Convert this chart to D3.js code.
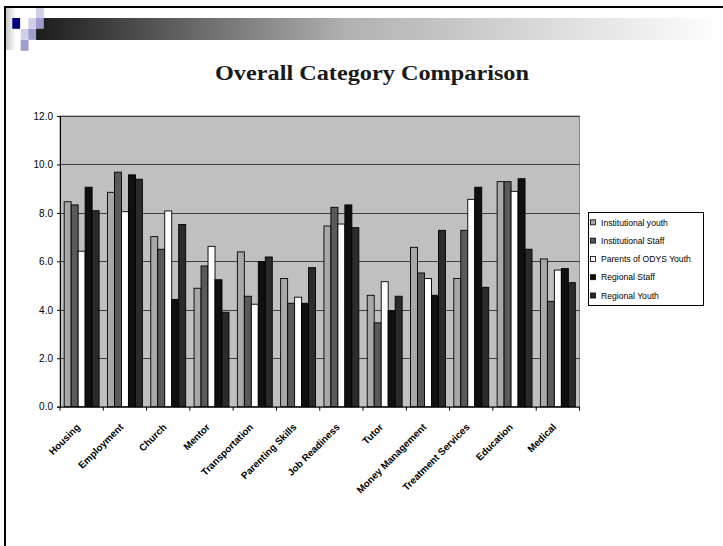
<!DOCTYPE html>
<html><head><meta charset="utf-8">
<script src="https://cdn.jsdelivr.net/npm/d3@7"></script>
<style>body{margin:0;background:#fff}svg{display:block}</style>
</head><body>
<svg id="c" width="723" height="546"></svg>
<script>
const categories = ["Housing","Employment","Church","Mentor","Transportation","Parenting Skills","Job Readiness","Tutor","Money Management","Treatment Services","Education","Medical"];
const seriesNames = ["Institutional youth","Institutional Staff","Parents of ODYS Youth","Regional Staff","Regional Youth"];
const institutionalYouth = [8.46, 8.85, 7.02, 4.89, 6.39, 5.29, 7.46, 4.60, 6.58, 5.29, 9.29, 6.10];
const institutionalStaff = [8.33, 9.68, 6.50, 5.81, 4.56, 4.27, 8.23, 3.46, 5.52, 7.28, 9.29, 4.35];
const parentsOfOdys     = [6.42, 8.05, 8.08, 6.62, 4.23, 4.52, 7.54, 5.16, 5.29, 8.56, 8.89, 5.64];
const regionalStaff     = [9.06, 9.57, 4.43, 5.24, 5.99, 4.27, 8.33, 3.96, 4.60, 9.06, 9.41, 5.70];
const regionalYouth     = [8.09, 9.39, 7.52, 3.90, 6.18, 5.74, 7.39, 4.56, 7.28, 4.93, 6.50, 5.12];
const yTicks = [0, 2, 4, 6, 8, 10, 12];
const colors = ["#a8a8a8", "#5a5a5a", "#ffffff", "#101010", "#2b2b2b"];

const seriesValues = [institutionalYouth, institutionalStaff, parentsOfOdys, regionalStaff, regionalYouth];
const svg = d3.select("#c");

// slide decoration
const defs = svg.append("defs");
const g1 = defs.append("linearGradient").attr("id","hdr").attr("x1","0").attr("x2","1");
g1.append("stop").attr("offset","0").attr("stop-color","#1c1c1c");
g1.append("stop").attr("offset","0.45").attr("stop-color","#b0b0b0");
g1.append("stop").attr("offset","1").attr("stop-color","#ffffff");
const g2 = defs.append("linearGradient").attr("id","lft").attr("x1","0").attr("x2","1");
g2.append("stop").attr("offset","0").attr("stop-color","#c8c8c8");
g2.append("stop").attr("offset","1").attr("stop-color","#ffffff");
svg.append("rect").attr("x",6).attr("y",7).attr("width",10).attr("height",43).attr("fill","url(#lft)");
svg.append("rect").attr("x",36).attr("y",18).attr("width",687).attr("height",22).attr("fill","url(#hdr)");
const sq = [[12.3,18,"#000080"],[28.3,18,"#cfd0e8"],[36,7.3,"#cfd0e8"],[36,18,"#9c9dcc"],[20.7,29,"#cfd0e8"],[28.3,29,"#9c9dcc"],[20.7,40,"#9c9dcc"]];
svg.selectAll("rect.sq").data(sq).enter().append("rect").attr("class","sq")
  .attr("x",d=>d[0]).attr("y",d=>d[1]).attr("width",7.8).attr("height",10.8).attr("fill",d=>d[2]);
svg.append("line").attr("x1",4).attr("x2",723).attr("y1",7).attr("y2",7).attr("stroke","#000").attr("stroke-width",2);
svg.append("line").attr("x1",5).attr("x2",5).attr("y1",6).attr("y2",546).attr("stroke","#000").attr("stroke-width",2);

// title
svg.append("text").attr("x",372).attr("y",80).attr("text-anchor","middle")
  .attr("font-family","Liberation Serif, serif").attr("font-weight","bold").attr("font-size",20.5)
  .attr("textLength",314).attr("lengthAdjust","spacingAndGlyphs")
  .attr("fill","#1a1a1a").text("Overall Category Comparison");

// plot
const L = 60, R = 579.5, T = 116, B = 406.7;
const x0 = d3.scaleBand().domain(categories).range([L, R]).paddingInner(0).paddingOuter(0);
const x1 = d3.scaleBand().domain(seriesNames).range([0, x0.bandwidth()]).paddingOuter(0.6).paddingInner(0);
const y = d3.scaleLinear().domain([0, 12]).range([B, T]);

svg.append("rect").attr("x",L).attr("y",T).attr("width",R-L).attr("height",B-T)
  .attr("fill","#c0c0c0").attr("stroke","#808080").attr("stroke-width",1);

svg.append("g").selectAll("line").data(yTicks.filter(d=>d>0)).enter().append("line")
  .attr("x1",L).attr("x2",R).attr("y1",d=>Math.round(y(d))+0.5).attr("y2",d=>Math.round(y(d))+0.5)
  .attr("stroke","#404040").attr("stroke-width",1);

const groups = svg.append("g").selectAll("g").data(categories).enter().append("g")
  .attr("transform", c => `translate(${x0(c)},0)`);
groups.selectAll("rect").data((c,i) => seriesNames.map((s,j) => ({s, j, v: seriesValues[j][i]})))
  .enter().append("rect")
  .attr("x", d => x1(d.s)).attr("width", x1.bandwidth())
  .attr("y", d => y(d.v)).attr("height", d => B - y(d.v))
  .attr("fill", d => colors[d.j]).attr("stroke","#000").attr("stroke-width",0.9);

// y axis
const yAxis = d3.axisLeft(y).tickValues(yTicks).tickFormat(d3.format(".1f")).tickSize(3).tickPadding(4);
const ya = svg.append("g").attr("transform",`translate(${L},0)`).call(yAxis);
ya.select(".domain").attr("stroke","#000");
ya.selectAll("text").attr("font-family","Liberation Sans, Arial, sans-serif").attr("font-size",10).attr("fill","#000");

// x axis
const xa = svg.append("g").attr("transform",`translate(0,${B})`);
xa.append("line").attr("x1",L).attr("x2",R).attr("y1",0.5).attr("y2",0.5).attr("stroke","#000");
const bounds = d3.range(categories.length+1).map(i => L + i*x0.step());
xa.selectAll("line.t").data(bounds).enter().append("line").attr("class","t")
  .attr("x1",d=>d).attr("x2",d=>d).attr("y1",0).attr("y2",4).attr("stroke","#000");
xa.selectAll("text").data(categories).enter().append("text")
  .attr("transform", c => `translate(${x0(c)+x0.bandwidth()/2-1},${21}) rotate(-45)`)
  .attr("text-anchor","end")
  .attr("font-family","Liberation Sans, Arial, sans-serif").attr("font-weight","bold").attr("font-size",9.8)
  .attr("fill","#000").text(c=>c);

// legend
const lg = svg.append("g");
lg.append("rect").attr("x",588.5).attr("y",212.5).attr("width",115).attr("height",93)
  .attr("fill","#fff").attr("stroke","#000").attr("stroke-width",1);
const items = lg.selectAll("g").data(seriesNames).enter().append("g")
  .attr("transform",(d,i)=>`translate(590,${222.3 + i*18.3})`);
items.append("rect").attr("x",0.5).attr("y",-2.5).attr("width",5).attr("height",5)
  .attr("fill",(d,i)=>colors[i]).attr("stroke","#000").attr("stroke-width",0.8);
items.append("text").attr("x",11).attr("y",3.2)
  .attr("font-family","Liberation Sans, Arial, sans-serif").attr("font-size",8.6).attr("fill","#000").text(d=>d);
</script>
</body></html>
